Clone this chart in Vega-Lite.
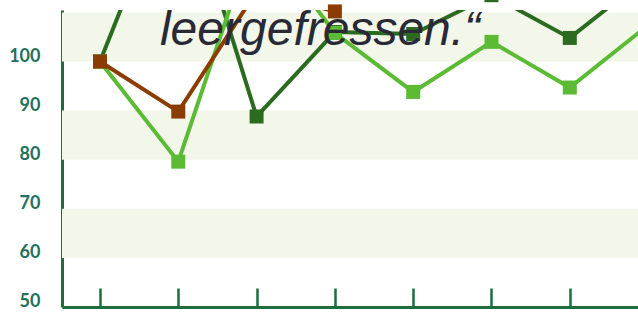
{
  "$schema": "https://vega.github.io/schema/vega-lite/v6.json",
  "width": 576,
  "height": 297,
  "autosize": {"type": "none"},
  "padding": {"left": 62, "top": 10, "right": 0, "bottom": 6},
  "background": "white",
  "config": {"view": {"stroke": null}},
  "datasets": {
    "series": [
      {"series": "Reihe 1", "x": 0, "value": 100},
      {"series": "Reihe 1", "x": 1, "value": 140},
      {"series": "Reihe 1", "x": 2, "value": 88.8},
      {"series": "Reihe 1", "x": 3, "value": 106},
      {"series": "Reihe 1", "x": 4, "value": 105.6},
      {"series": "Reihe 1", "x": 5, "value": 113.5},
      {"series": "Reihe 1", "x": 6, "value": 104.8},
      {"series": "Reihe 1", "x": 7, "value": 117.4},
      {"series": "Reihe 2", "x": 0, "value": 100},
      {"series": "Reihe 2", "x": 1, "value": 79.6},
      {"series": "Reihe 2", "x": 2, "value": 127},
      {"series": "Reihe 2", "x": 3, "value": 105.8},
      {"series": "Reihe 2", "x": 4, "value": 93.8},
      {"series": "Reihe 2", "x": 5, "value": 104},
      {"series": "Reihe 2", "x": 6, "value": 94.7},
      {"series": "Reihe 2", "x": 7, "value": 107.4},
      {"series": "Reihe 3", "x": 0, "value": 100},
      {"series": "Reihe 3", "x": 1, "value": 89.8},
      {"series": "Reihe 3", "x": 2, "value": 114.3},
      {"series": "Reihe 3", "x": 3, "value": 110.2}
    ],
    "bands": [
      {"lo": 60, "hi": 70},
      {"lo": 80, "hi": 90},
      {"lo": 100, "hi": 110}
    ],
    "note": [
      {"label": "leergefressen.“", "x": 0.766, "value": 103.4}
    ]
  },
  "layer": [
    {
      "data": {"name": "bands"},
      "mark": {"type": "rect", "color": "#f2f7ea"},
      "encoding": {
        "y": {"field": "lo", "type": "quantitative", "scale": {"domain": [50, 110.49], "nice": false, "zero": false},
          "axis": {"values": [50, 60, 70, 80, 90, 100], "title": null, "grid": false, "ticks": false,
            "domainColor": "#1b6e3d", "domainWidth": 3, "labelColor": "#217160", "labelFont": "Lato",
            "labelFontWeight": "bold", "labelFontSize": 18, "labelPadding": 22, "labelOffset": -5.5}},
        "y2": {"field": "hi"}
      }
    },
    {
      "data": {"name": "series"},
      "mark": {"type": "line", "strokeWidth": 4, "clip": true},
      "encoding": {
        "x": {"field": "x", "type": "quantitative", "scale": {"domain": [-0.485, 6.871], "nice": false, "zero": false},
          "axis": {"values": [0, 1, 2, 3, 4, 5, 6], "title": null, "grid": false, "labels": false,
            "domainColor": "#1b6e3d", "domainWidth": 3, "tickColor": "#1b6e3d", "tickWidth": 2.5, "tickSize": -19}},
        "y": {"field": "value", "type": "quantitative"},
        "color": {"field": "series", "type": "nominal",
          "scale": {"domain": ["Reihe 1", "Reihe 2", "Reihe 3"], "range": ["#2a6b1f", "#5cbb34", "#8b3c00"]},
          "legend": null}
      }
    },
    {
      "data": {"name": "series"},
      "mark": {"type": "point", "shape": "square", "filled": true, "opacity": 1, "size": 196},
      "encoding": {
        "x": {"field": "x", "type": "quantitative"},
        "y": {"field": "value", "type": "quantitative"},
        "color": {"field": "series", "type": "nominal", "legend": null}
      }
    },
    {
      "data": {"name": "note"},
      "mark": {"type": "text", "font": "Liberation Sans", "fontStyle": "italic", "fontSize": 48,
        "color": "#2a2a36", "align": "left", "baseline": "alphabetic"},
      "encoding": {
        "x": {"field": "x", "type": "quantitative"},
        "y": {"field": "value", "type": "quantitative"},
        "text": {"field": "label"}
      }
    }
  ]
}
